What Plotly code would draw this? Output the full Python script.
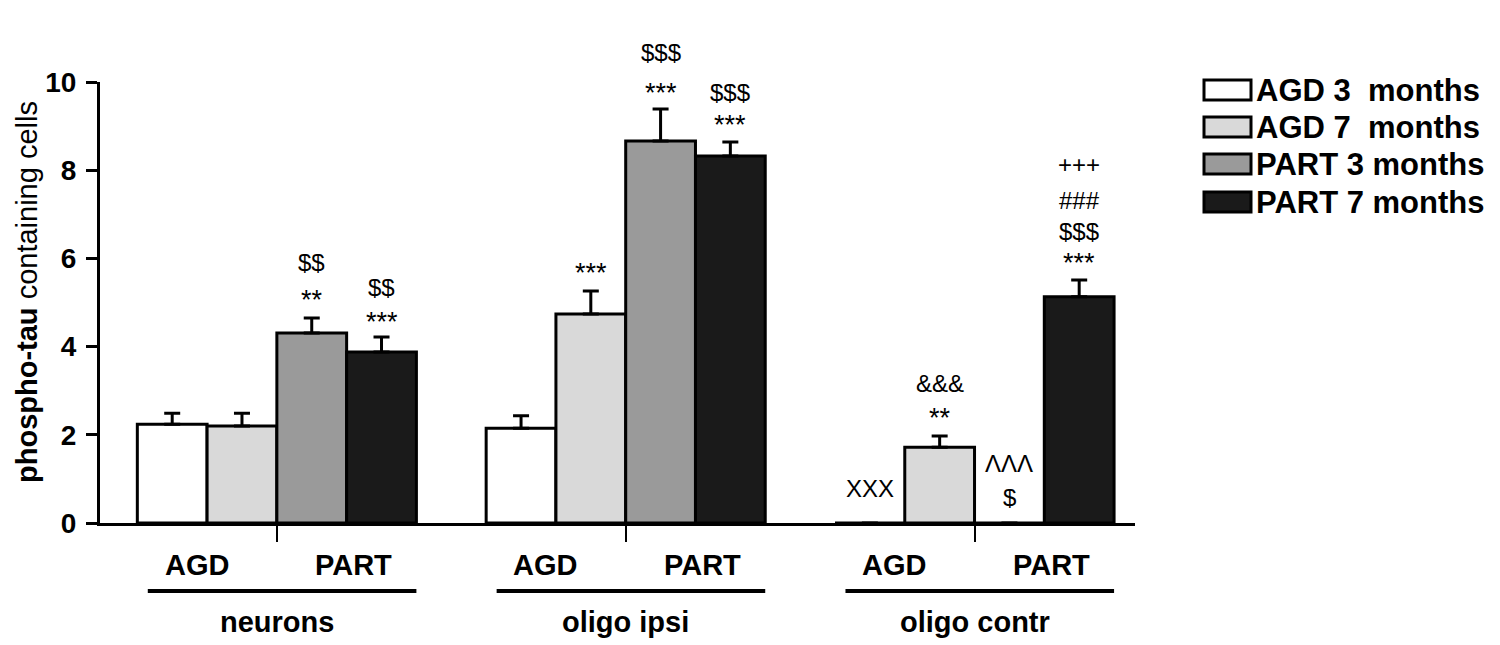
import plotly.graph_objects as go

# data
groups = ["neurons", "oligo ipsi", "oligo contr"]
series = ["AGD 3  months", "AGD 7  months", "PART 3 months", "PART 7 months"]
means = [
    [2.24, 2.15, 0.0],
    [2.20, 4.74, 1.72],
    [4.31, 8.66, 0.0],
    [3.88, 8.32, 5.13],
]
sems = [
    [0.25, 0.28, 0.0],
    [0.29, 0.52, 0.25],
    [0.34, 0.73, 0.0],
    [0.34, 0.32, 0.38],
]
colors = ["#ffffff", "#d9d9d9", "#9a9a9a", "#1a1a1a"]

# significance marks: (group, bar, y, text)
marks = [
    (0, 2, 5.90, "$$"), (0, 2, 5.17, "**"),
    (0, 3, 5.35, "$$"), (0, 3, 4.67, "***"),
    (1, 1, 5.78, "***"),
    (1, 2, 10.66, "$$$"), (1, 2, 9.86, "***"),
    (1, 3, 9.77, "$$$"), (1, 3, 9.14, "***"),
    (2, 0, 0.79, "XXX"),
    (2, 1, 3.17, "&&&"), (2, 1, 2.49, "**"),
    (2, 2, 1.36, "ΛΛΛ"), (2, 2, 0.57, "$"),
    (2, 3, 8.12, "+++"), (2, 3, 7.32, "###"),
    (2, 3, 6.60, "$$$"), (2, 3, 6.00, "***"),
]

FONT = "Liberation Sans, Arial, sans-serif"

# page has an 8px body margin, so the figure is drawn 8px smaller
OFF = 8
W, H = 1500 - OFF, 645 - OFF
# plot area edges in page pixels
L, R, T, B = 100, 1135, 82, 523


def px(x):
    return (x - L) / (R - L)


def py(y):
    return (B - y) / (B - T)


fig = go.Figure()
for i, name in enumerate(series):
    fig.add_bar(
        x=groups, y=means[i], name=name,
        marker=dict(color=colors[i], line=dict(color="black", width=3)),
        error_y=dict(type="data", symmetric=False, array=sems[i],
                     arrayminus=[0] * len(groups),
                     color="black", thickness=3, width=8),
        showlegend=False,
    )

bw = 0.2
offsets = [-1.5 * bw, -0.5 * bw, 0.5 * bw, 1.5 * bw]
for g, b, y, txt in marks:
    size = 27 if txt.startswith("*") else 24
    shift = -5 if txt.startswith("*") else 0
    fig.add_annotation(x=g + offsets[b], y=y / 10, yref="paper", yshift=shift,
                       text=txt, showarrow=False, yanchor="middle",
                       font=dict(family=FONT, size=size, color="black"))

# sub-category labels, underlines and group names
for g, name in enumerate(groups):
    fig.add_annotation(x=g - 0.23, y=py(565), yref="paper", text="<b>AGD</b>",
                       showarrow=False, yanchor="middle", font=dict(size=29))
    fig.add_annotation(x=g + 0.22, y=py(565), yref="paper", text="<b>PART</b>",
                       showarrow=False, yanchor="middle", font=dict(size=29))
    fig.add_shape(type="line", x0=g - 0.37, x1=g + 0.40, xref="x",
                  y0=py(591), y1=py(591), yref="paper",
                  line=dict(color="black", width=4))
    fig.add_annotation(x=g, y=py(622), yref="paper", text="<b>%s</b>" % name,
                       showarrow=False, yanchor="middle", font=dict(size=29))

# legend drawn as boxes + labels
rows = [90, 127, 164, 202]
for i, name in enumerate(series):
    fig.add_shape(type="rect", xref="paper", yref="paper",
                  x0=px(1204), x1=px(1251), y0=py(rows[i] + 10), y1=py(rows[i] - 10),
                  fillcolor=colors[i], line=dict(color="black", width=3))
    fig.add_annotation(x=px(1254), y=py(rows[i]), xref="paper", yref="paper",
                       xanchor="left", yanchor="middle",
                       text="<b>%s</b>" % name.replace(" ", "&nbsp;"),
                       showarrow=False, font=dict(size=31))

fig.add_annotation(x=px(27), y=py(292), xref="paper", yref="paper", textangle=-90,
                   xanchor="center", yanchor="middle",
                   text="<b>phospho-tau</b> containing cells", showarrow=False,
                   font=dict(size=29))

fig.update_layout(
    width=W, height=H,
    margin=dict(l=L - OFF, r=W - (R - OFF), t=T - OFF, b=H - (B - OFF), autoexpand=False),
    plot_bgcolor="white", paper_bgcolor="white",
    barmode="group", bargap=0.2, bargroupgap=0,
    font=dict(family=FONT, color="black"),
)
fig.update_xaxes(range=[-0.507, 2.46], showline=True, linecolor="black", linewidth=3,
                 ticks="outside", ticklen=16, tickwidth=2, tickcolor="black",
                 showticklabels=False, showgrid=False, zeroline=False)
fig.update_yaxes(range=[0, 10], tickvals=[0, 2, 4, 6, 8, 10], showline=True,
                 linecolor="black", linewidth=3, ticks="outside", ticklen=11,
                 tickwidth=3, tickcolor="black", showgrid=False, zeroline=False,
                 tickfont=dict(family=FONT, size=28, weight="bold"), ticklabelstandoff=4)

fig.write_html("out.html")
